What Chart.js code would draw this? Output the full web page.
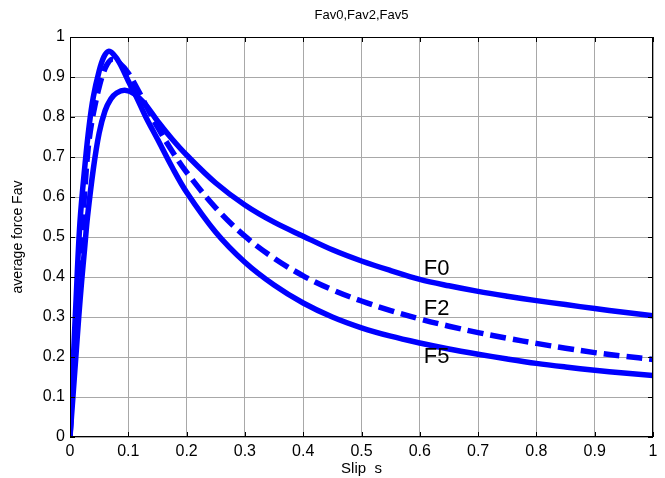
<!DOCTYPE html>
<html>
<head>
<meta charset="utf-8">
<script src="https://cdn.jsdelivr.net/npm/chart.js@4"></script>
<style>
  html, body { margin: 0; padding: 0; background: #fff; }
  #wrap { width: 665px; height: 478px; }
</style>
</head>
<body>
<div id="wrap"><canvas id="grafico" width="665" height="478"></canvas></div>
<script>
// valori
const f0S = [0, 0.005, 0.01, 0.015, 0.02, 0.025, 0.03, 0.04, 0.05, 0.06, 0.07, 0.08, 0.094, 0.11, 0.13, 0.15, 0.175, 0.2, 0.25, 0.3, 0.35, 0.4, 0.45, 0.5, 0.55, 0.6, 0.65, 0.7, 0.75, 0.8, 0.85, 0.9, 0.95, 1.0];
const f0Y = [0, 0.1, 0.2, 0.3, 0.39, 0.47, 0.55, 0.67, 0.76, 0.815, 0.845, 0.86, 0.867, 0.858, 0.83, 0.79, 0.745, 0.705, 0.635, 0.58, 0.537, 0.502, 0.468, 0.44, 0.416, 0.394, 0.378, 0.364, 0.352, 0.341, 0.331, 0.321, 0.312, 0.303];

const f2S = [0, 0.005, 0.01, 0.015, 0.02, 0.025, 0.031, 0.037, 0.043, 0.05, 0.056, 0.063, 0.072, 0.085, 0.1, 0.115, 0.13, 0.15, 0.175, 0.2, 0.25, 0.3, 0.35, 0.4, 0.45, 0.5, 0.55, 0.6, 0.65, 0.7, 0.75, 0.8, 0.85, 0.9, 0.95, 1.0];
const f2Y = [0, 0.15, 0.28, 0.4, 0.5, 0.61, 0.72, 0.785, 0.83, 0.875, 0.905, 0.93, 0.944, 0.935, 0.91, 0.872, 0.83, 0.775, 0.715, 0.662, 0.573, 0.502, 0.447, 0.403, 0.368, 0.34, 0.316, 0.295, 0.277, 0.261, 0.247, 0.234, 0.222, 0.211, 0.202, 0.194];

const f5S = [0, 0.005, 0.01, 0.017, 0.026, 0.033, 0.04, 0.05, 0.058, 0.066, 0.075, 0.085, 0.1, 0.114, 0.13, 0.15, 0.175, 0.2, 0.25, 0.3, 0.35, 0.4, 0.45, 0.5, 0.55, 0.6, 0.65, 0.7, 0.75, 0.8, 0.85, 0.9, 0.95, 1.0];
const f5Y = [0, 0.17, 0.33, 0.535, 0.685, 0.78, 0.85, 0.915, 0.95, 0.964, 0.956, 0.935, 0.89, 0.85, 0.8, 0.745, 0.675, 0.612, 0.512, 0.437, 0.38, 0.335, 0.3, 0.273, 0.252, 0.235, 0.22, 0.207, 0.195, 0.184, 0.175, 0.167, 0.16, 0.154];

// etichette sulle curve
const curveLabels = ['F0', 'F2', 'F5'];
const labelX = [0.6, 0.6, 0.6];
const labelY = [0.42, 0.32, 0.2];

function toPoints(xs, ys) {
  return xs.map((x, i) => ({ x: x, y: ys[i] }));
}

function formatTick(value) {
  return String(Number(value.toFixed(1)));
}

const blu = '#0000ff';
const fontFam = '"Liberation Sans", Arial, sans-serif';

// titolo, bordo, tacche interne ed etichette F0/F2/F5
const matlabStyle = {
  id: 'matlabStyle',
  afterDraw(chart) {
    const ctx = chart.ctx;
    const a = chart.chartArea;
    const xs = chart.scales.x, ys = chart.scales.y;
    ctx.save();
    ctx.strokeStyle = '#000';
    ctx.lineWidth = 1;
    ctx.strokeRect(a.left + 0.5, a.top + 0.5, a.right - a.left - 1, a.bottom - a.top - 1);
    ctx.beginPath();
    xs.ticks.forEach(t => {
      const px = Math.round(xs.getPixelForValue(t.value)) + 0.5;
      ctx.moveTo(px, a.bottom); ctx.lineTo(px, a.bottom - 5);
      ctx.moveTo(px, a.top); ctx.lineTo(px, a.top + 5);
    });
    ys.ticks.forEach(t => {
      const py = Math.round(ys.getPixelForValue(t.value)) + 0.5;
      ctx.moveTo(a.left, py); ctx.lineTo(a.left + 5, py);
      ctx.moveTo(a.right, py); ctx.lineTo(a.right - 5, py);
    });
    ctx.stroke();

    ctx.fillStyle = '#000';
    ctx.font = '13px ' + fontFam;
    ctx.textAlign = 'center';
    ctx.textBaseline = 'middle';
    ctx.fillText('Fav0,Fav2,Fav5', (a.left + a.right) / 2, 15);

    ctx.font = '22px ' + fontFam;
    ctx.textAlign = 'left';
    curveLabels.forEach((txt, i) => {
      ctx.fillText(txt, xs.getPixelForValue(labelX[i]) + 4, ys.getPixelForValue(labelY[i]));
    });
    ctx.restore();
  }
};

const ctx = document.getElementById('grafico').getContext('2d');
const grafico = new Chart(ctx, {
  type: 'line',
  data: {
    datasets: [{
      label: 'F0',
      data: toPoints(f0S, f0Y),
      borderColor: blu,
      borderWidth: 5.5
    }, {
      label: 'F2',
      data: toPoints(f2S, f2Y),
      borderColor: blu,
      borderWidth: 5.5,
      borderDash: [16, 7]
    }, {
      label: 'F5',
      data: toPoints(f5S, f5Y),
      borderColor: blu,
      borderWidth: 5.5
    }]
  },
  options: {
    responsive: false,
    animation: false,
    events: [],
    layout: { padding: { top: 37, right: 12, left: 0, bottom: 0 } },
    elements: {
      point: { radius: 0 },
      line: { tension: 0.35, borderCapStyle: 'butt' }
    },
    plugins: {
      legend: { display: false },
      tooltip: { enabled: false }
    },
    scales: {
      x: {
        type: 'linear',
        min: 0,
        max: 1,
        afterFit: s => { s.height = 41; },
        ticks: {
          stepSize: 0.1,
          color: '#000',
          padding: 5,
          maxRotation: 0,
          callback: formatTick,
          font: { family: fontFam, size: 16 }
        },
        grid: { color: '#a8a8a8', drawTicks: false },
        border: { display: false },
        title: {
          display: true,
          text: 'Slip  s',
          color: '#000',
          padding: { top: 0, bottom: 0 },
          font: { family: fontFam, size: 15 }
        }
      },
      y: {
        min: 0,
        max: 1,
        afterFit: s => { s.width = 70; },
        ticks: {
          stepSize: 0.1,
          color: '#000',
          padding: 5,
          callback: formatTick,
          font: { family: fontFam, size: 16 }
        },
        grid: { color: '#a8a8a8', drawTicks: false },
        border: { display: false },
        title: {
          display: true,
          text: 'average force Fav',
          color: '#000',
          padding: { top: 10, bottom: 0 },
          font: { family: fontFam, size: 14 }
        }
      }
    }
  },
  plugins: [matlabStyle]
});
</script>
</body>
</html>
